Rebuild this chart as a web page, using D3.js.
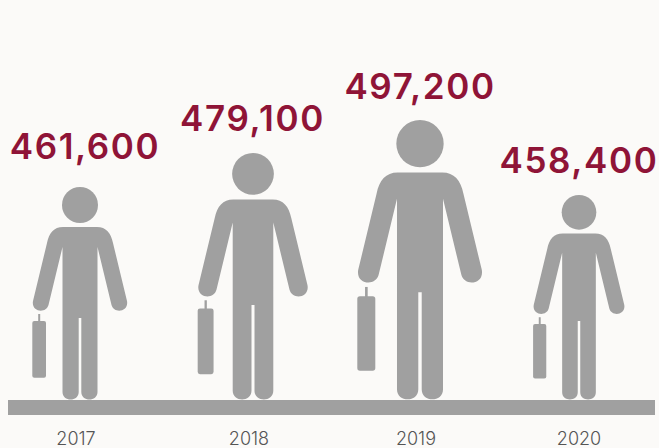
<!DOCTYPE html>
<html><head><meta charset="utf-8">
<script src="https://cdn.jsdelivr.net/npm/d3@7"></script>
<style>html,body{margin:0;padding:0;background:#fbfaf8}svg{display:block}</style>
</head><body><svg id="c" width="659" height="448"></svg>
<script>
const years = ["2017","2018","2019","2020"];
const workers = [461600,479100,497200,458400];
const labels = ["461,600","479,100","497,200","458,400"];

const W=659,H=448,base=400,unit=213;
const svg=d3.select("#c");
svg.append("rect").attr("width",W).attr("height",H).attr("fill","#fbfaf8");
const x=d3.scaleOrdinal().domain(years).range([80,253,420,579]);
const labelX=d3.scaleOrdinal().domain(years).range([85,252.5,420,579]);
const labelY=d3.scaleOrdinal().domain(years).range([159,131,99,173]);
const yearX=d3.scaleOrdinal().domain(years).range([76,249,416,579]);
const h=d3.scaleLinear().domain([458400,461600,479100,497200]).range([205,213,247,280]);
const grey="#a0a0a0";

function pen(){
  const p=d3.path();
  p.moveTo(-17,-173);p.lineTo(17,-173);
  p.bezierCurveTo(26,-173,31,-167,33,-157);
  p.lineTo(47,-99);
  p.bezierCurveTo(49,-88,34,-86,31.5,-95);
  p.lineTo(17.5,-153);
  p.lineTo(17.5,-8);
  p.bezierCurveTo(17.5,2,1.3,2,1.3,-8);
  p.lineTo(1.3,-82);p.lineTo(-1.3,-82);p.lineTo(-1.3,-8);
  p.bezierCurveTo(-1.3,2,-17.5,2,-17.5,-8);
  p.lineTo(-17.5,-153);
  p.lineTo(-31.5,-95);
  p.bezierCurveTo(-34,-86,-49,-88,-47,-99);
  p.lineTo(-33,-157);
  p.bezierCurveTo(-31,-167,-26,-173,-17,-173);
  p.closePath();
  return p.toString();
}
const people=svg.selectAll("g.p").data(years).join("g").attr("class","p")
  .attr("transform",(d,i)=>`translate(${x(d)},${base}) scale(${h(workers[i])/unit})`)
  .attr("fill",grey);
people.append("path").attr("d",pen());
people.append("circle").attr("cx",0).attr("cy",-195).attr("r",18);
people.append("rect").attr("x",-47.7).attr("y",-79).attr("width",13.7).attr("height",56.7).attr("rx",2);
people.append("rect").attr("x",-41.8).attr("y",-86).attr("width",2).attr("height",8);

svg.append("rect").attr("x",8).attr("y",base).attr("width",647).attr("height",15).attr("fill",grey);

svg.selectAll("text.v").data(labels).join("text").attr("class","v")
  .attr("x",(d,i)=>labelX(years[i]))
  .attr("y",(d,i)=>labelY(years[i]))
  .attr("text-anchor","middle")
  .attr("font-family","Inter,sans-serif").attr("font-weight",600).attr("font-size",35)
  .attr("letter-spacing",1.6)
  .attr("fill","#8f1437").text(d=>d);
svg.selectAll("text.y").data(years).join("text").attr("class","y")
  .attr("x",d=>yearX(d))
  .attr("y",445).attr("text-anchor","middle")
  .attr("font-family","Inter,sans-serif").attr("font-weight",300).attr("font-size",18)
  .attr("fill","#555").text(d=>d);
</script></body></html>
